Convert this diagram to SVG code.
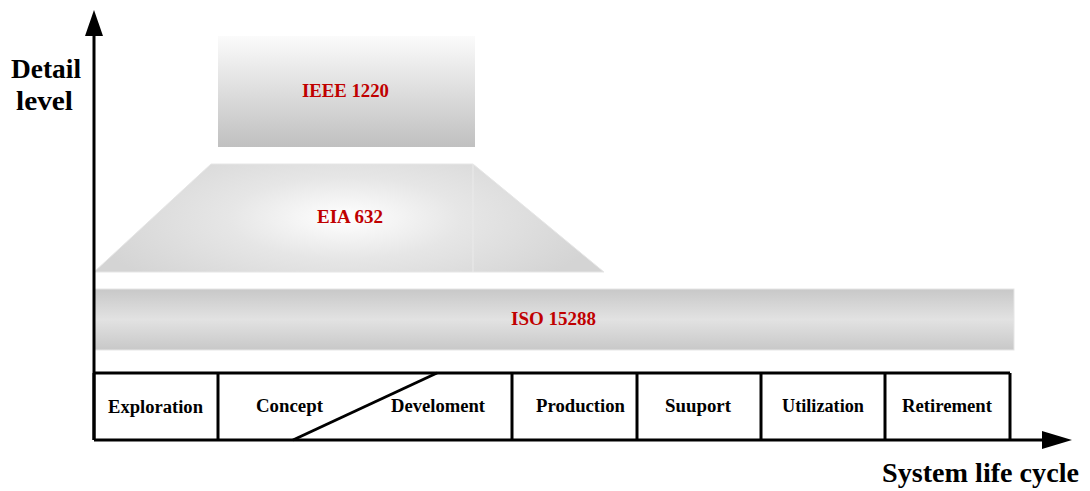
<svg xmlns="http://www.w3.org/2000/svg" width="1090" height="491" viewBox="0 0 1090 491">
<style>
text{font-family:"Liberation Serif","Times New Roman",Tinos,"Nimbus Roman","Nimbus Roman No9 L","FreeSerif","Noto Serif","DejaVu Serif",serif;font-weight:bold}
.lbl{fill:#c00000;font-size:18px}
.cell{fill:#000;font-size:18px}
.axl{fill:#000;font-size:28px}
.ln{stroke:#000;stroke-width:3;fill:none}
</style>
<defs>
<linearGradient id="gIeee" x1="0" y1="0" x2="0" y2="1">
<stop offset="0" stop-color="#fbfbfb"/><stop offset="1" stop-color="#c0c0c0"/>
</linearGradient>
<radialGradient id="gEia" gradientUnits="userSpaceOnUse" cx="345" cy="218" r="260" gradientTransform="translate(345 218) scale(1 0.35) translate(-345 -218)">
<stop offset="0" stop-color="#ffffff"/><stop offset="0.45" stop-color="#e6e6e6"/><stop offset="1" stop-color="#d4d4d4"/>
</radialGradient>
<linearGradient id="gIso" x1="0" y1="0" x2="0" y2="1">
<stop offset="0" stop-color="#c8c8c8"/><stop offset="0.5" stop-color="#e2e2e2"/><stop offset="1" stop-color="#c8c8c8"/>
</linearGradient>
</defs>
<g id="ieee">
<rect x="218" y="36" width="257" height="111" fill="url(#gIeee)"/>
<text class="lbl" x="302" y="97" textLength="87" lengthAdjust="spacingAndGlyphs">IEEE 1220</text>
</g>
<g id="eia">
<polygon points="211,164 473,164 604,272 94,272" fill="url(#gEia)" stroke="#e6e6e6" stroke-width="1"/>
<line x1="473" y1="164" x2="473" y2="272" stroke="#eaeaea" stroke-width="1"/>
<text class="lbl" x="317" y="223" textLength="66" lengthAdjust="spacingAndGlyphs">EIA 632</text>
</g>
<g id="iso">
<rect x="94" y="289" width="920" height="61" fill="url(#gIso)" stroke="#e6e6e6" stroke-width="1"/>
<text class="lbl" x="511" y="325" textLength="85" lengthAdjust="spacingAndGlyphs">ISO 15288</text>
</g>
<g id="axes">
<line class="ln" x1="94" y1="440" x2="94" y2="36"/>
<polygon points="94,10 85,36 103,36" fill="#000"/>
<line class="ln" x1="94" y1="440" x2="1042" y2="440"/>
<polygon points="1072,440 1042,431 1042,449" fill="#000"/>
<text class="axl" x="11" y="78" textLength="70" lengthAdjust="spacingAndGlyphs">Detail</text>
<text class="axl" x="16" y="110" textLength="57" lengthAdjust="spacingAndGlyphs">level</text>
<text class="axl" x="882" y="482" textLength="197" lengthAdjust="spacingAndGlyphs">System life cycle</text>
</g>
<g id="table">
<line class="ln" x1="94" y1="373" x2="1010" y2="373"/>
<line class="ln" x1="94" y1="373" x2="94" y2="440"/>
<line class="ln" x1="218" y1="373" x2="218" y2="440"/>
<line class="ln" x1="512" y1="373" x2="512" y2="440"/>
<line class="ln" x1="637" y1="373" x2="637" y2="440"/>
<line class="ln" x1="761" y1="373" x2="761" y2="440"/>
<line class="ln" x1="885" y1="373" x2="885" y2="440"/>
<line class="ln" x1="1010" y1="373" x2="1010" y2="440"/>
<line class="ln" x1="293" y1="440" x2="437" y2="373"/>
<text class="cell" x="108" y="413" textLength="95" lengthAdjust="spacingAndGlyphs">Exploration</text>
<text class="cell" x="256" y="412" textLength="67" lengthAdjust="spacingAndGlyphs">Concept</text>
<text class="cell" x="391" y="412" textLength="94" lengthAdjust="spacingAndGlyphs">Develoment</text>
<text class="cell" x="536" y="412" textLength="89" lengthAdjust="spacingAndGlyphs">Production</text>
<text class="cell" x="665" y="412" textLength="66" lengthAdjust="spacingAndGlyphs">Suuport</text>
<text class="cell" x="782" y="412" textLength="82" lengthAdjust="spacingAndGlyphs">Utilization</text>
<text class="cell" x="902" y="412" textLength="90" lengthAdjust="spacingAndGlyphs">Retirement</text>
</g>
</svg>
